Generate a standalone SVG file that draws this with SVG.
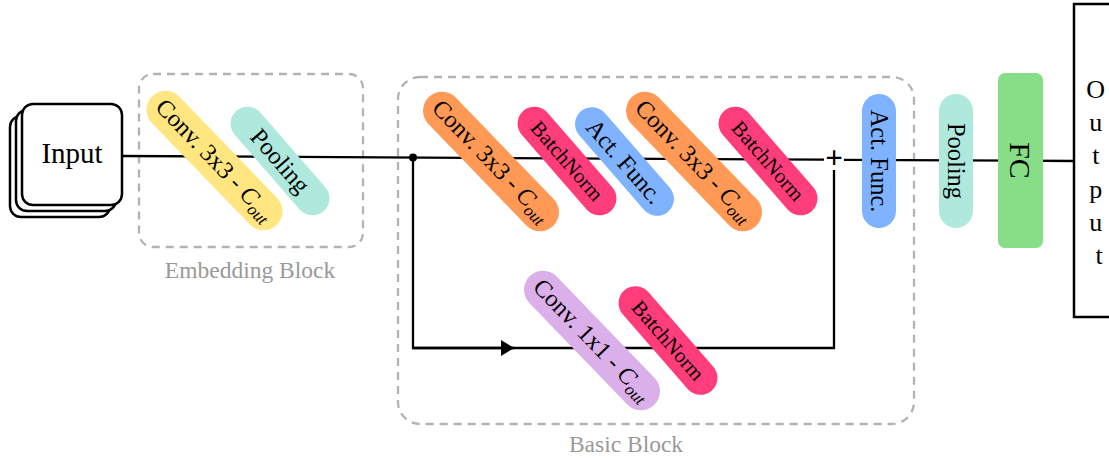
<svg xmlns="http://www.w3.org/2000/svg" width="1109" height="461" viewBox="0 0 1109 461">
  <defs>
    <style>
      .lbl { font-family: "Liberation Serif", "DejaVu Serif", serif; fill: #000; }
      .big { font-size: 24.5px; }
      .bn { font-size: 21px; }
      .grp { fill: none; stroke: #b3b3b3; stroke-width: 2.3; stroke-dasharray: 8 6; }
      .cap { font-family: "Liberation Serif", "DejaVu Serif", serif; font-size: 23.5px; fill: #999999; text-anchor: middle; }
      .wire { fill: none; stroke: #000; stroke-width: 2.3; stroke-linejoin: miter; }
      .box { fill: #fff; stroke: #000; stroke-width: 2.5; }
      .conv { fill: #ff9955; }
      .bnorm { fill: #ff3d7a; }
      .act { fill: #80b3ff; }
      .pool { fill: #afe9dd; }
    </style>
    <marker id="arrow" viewBox="0 0 13 16" refX="13" refY="8" markerWidth="13" markerHeight="16" markerUnits="userSpaceOnUse" orient="auto">
      <path d="M0,0 L13,8 L0,16 Z" fill="#000"/>
    </marker>
  </defs>

  <!-- dashed block outlines -->
  <g id="embedding-block">
    <rect class="grp" x="139" y="74" width="224" height="173" rx="14"/>
    <text class="cap" x="250" y="278">Embedding Block</text>
  </g>
  <g id="basic-block">
    <rect class="grp" x="398" y="77" width="516" height="347" rx="22"/>
    <text class="cap" x="626" y="452">Basic Block</text>
  </g>

  <!-- connectors -->
  <g id="connectors">
    <path class="wire" d="M122,156 L824,159.7"/>
    <path class="wire" d="M844,159.8 L1074,161"/>
    <path class="wire" d="M413,157.5 V348 H834 V170"/>
    <path class="wire" d="M413,348 H514" marker-end="url(#arrow)"/>
    <circle cx="413" cy="157.5" r="4" fill="#000"/>
    <text class="lbl" x="834" y="168" font-size="31" font-weight="bold" text-anchor="middle">+</text>
  </g>

  <!-- input stack -->
  <g id="input">
    <rect class="box" x="10" y="116" width="100" height="101" rx="11"/>
    <rect class="box" x="16" y="110" width="100" height="101" rx="11"/>
    <rect class="box" x="22" y="104" width="100" height="101" rx="11"/>
    <text class="lbl" x="72" y="163" font-size="29" text-anchor="middle">Input</text>
  </g>

  <!-- embedding block layers -->
  <g id="emb-conv" transform="translate(214.5,160.5) rotate(46)">
    <rect x="-89.5" y="-19" width="179" height="38" rx="19" fill="#ffe680"/>
    <text class="lbl big" x="0" y="7" text-anchor="middle">Conv. 3x3 - <tspan font-style="italic">C</tspan><tspan font-style="italic" font-size="17" dy="5">out</tspan></text>
  </g>
  <g id="emb-pool" transform="translate(280,161) rotate(49)">
    <rect class="pool" x="-66.5" y="-17" width="133" height="34" rx="17"/>
    <text class="lbl big" x="0" y="8" text-anchor="middle">Pooling</text>
  </g>

  <!-- basic block main branch -->
  <g id="bb-conv1" transform="translate(491,161.5) rotate(46)">
    <rect class="conv" x="-89.5" y="-19" width="179" height="38" rx="19"/>
    <text class="lbl big" x="0" y="7" text-anchor="middle">Conv. 3x3 - <tspan font-style="italic">C</tspan><tspan font-style="italic" font-size="17" dy="5">out</tspan></text>
  </g>
  <g id="bb-bn1" transform="translate(567,161) rotate(49)">
    <rect class="bnorm" x="-66.5" y="-17" width="133" height="34" rx="17"/>
    <text class="lbl bn" x="0" y="7" text-anchor="middle">BatchNorm</text>
  </g>
  <g id="bb-act1" transform="translate(624.5,161.5) rotate(49)">
    <rect class="act" x="-66.5" y="-17" width="133" height="34" rx="17"/>
    <text class="lbl big" x="0" y="8" text-anchor="middle">Act. Func.</text>
  </g>
  <g id="bb-conv2" transform="translate(694,161.5) rotate(46)">
    <rect class="conv" x="-89.5" y="-19" width="179" height="38" rx="19"/>
    <text class="lbl big" x="0" y="7" text-anchor="middle">Conv. 3x3 - <tspan font-style="italic">C</tspan><tspan font-style="italic" font-size="17" dy="5">out</tspan></text>
  </g>
  <g id="bb-bn2" transform="translate(768,161) rotate(49)">
    <rect class="bnorm" x="-66.5" y="-17" width="133" height="34" rx="17"/>
    <text class="lbl bn" x="0" y="7" text-anchor="middle">BatchNorm</text>
  </g>

  <!-- basic block shortcut branch -->
  <g id="bb-conv-sc" transform="translate(592,340.5) rotate(46)">
    <rect x="-89.5" y="-19" width="179" height="38" rx="19" fill="#dbafe9"/>
    <text class="lbl big" x="0" y="7" text-anchor="middle">Conv. 1x1 - <tspan font-style="italic">C</tspan><tspan font-style="italic" font-size="17" dy="5">out</tspan></text>
  </g>
  <g id="bb-bn-sc" transform="translate(668,340.5) rotate(49)">
    <rect class="bnorm" x="-66.5" y="-17" width="133" height="34" rx="17"/>
    <text class="lbl bn" x="0" y="7" text-anchor="middle">BatchNorm</text>
  </g>

  <!-- head -->
  <g id="act-out" transform="translate(879,161) rotate(90)">
    <rect class="act" x="-67" y="-17" width="134" height="34" rx="17"/>
    <text class="lbl big" x="0" y="8" text-anchor="middle">Act. Func.</text>
  </g>
  <g id="pool-out" transform="translate(956,161) rotate(90)">
    <rect class="pool" x="-67" y="-17" width="134" height="34" rx="17"/>
    <text class="lbl big" x="0" y="8" text-anchor="middle">Pooling</text>
  </g>
  <g id="fc" transform="translate(1020.5,160.5) rotate(90)">
    <rect x="-87.5" y="-22.5" width="175" height="45" rx="7" fill="#87de87"/>
    <text class="lbl" x="0" y="11" font-size="30" text-anchor="middle">FC</text>
  </g>
  <g id="output">
    <rect class="box" x="1074" y="4" width="60" height="313"/>
    <text class="lbl" font-size="26" text-anchor="middle">
      <tspan x="1099" y="98">O</tspan>
      <tspan x="1099" y="131">u</tspan>
      <tspan x="1099" y="164">t</tspan>
      <tspan x="1099" y="198">p</tspan>
      <tspan x="1099" y="231">u</tspan>
      <tspan x="1099" y="264">t</tspan>
    </text>
  </g>
</svg>
